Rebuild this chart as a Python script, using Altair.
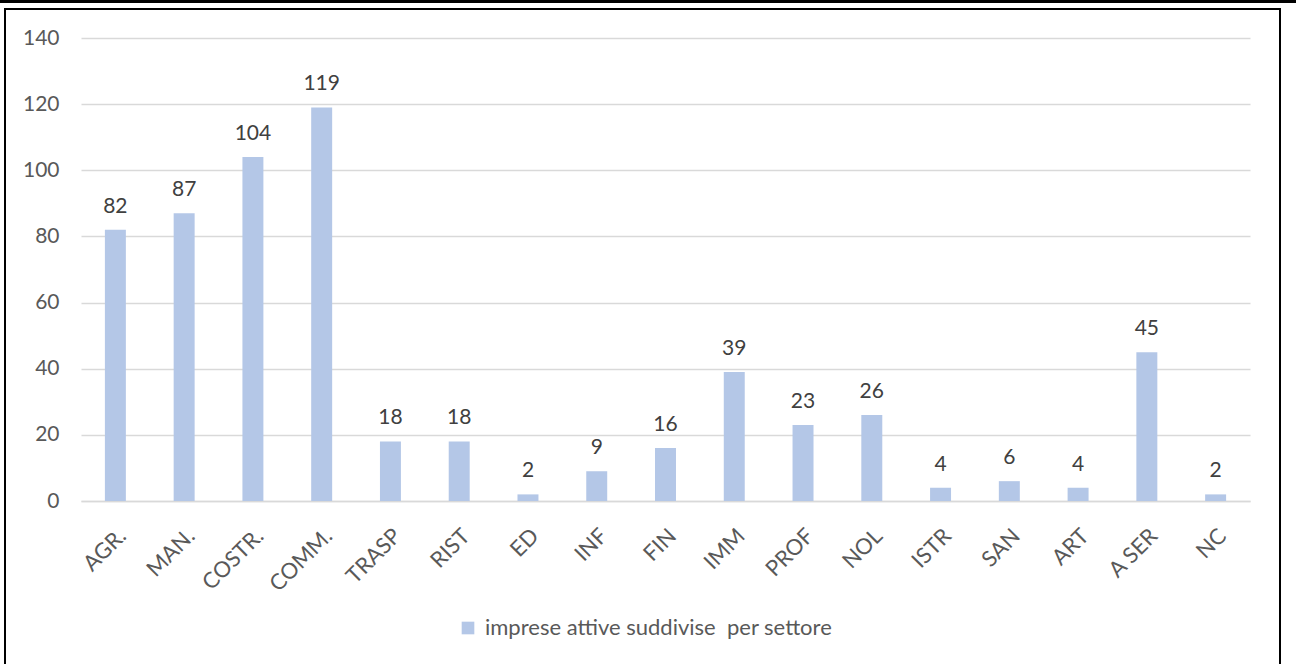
import altair as alt
import pandas as pd

# Imprese attive per settore
settori = ["AGR.", "MAN.", "COSTR.", "COMM.", "TRASP", "RIST", "ED", "INF", "FIN",
           "IMM", "PROF", "NOL", "ISTR", "SAN", "ART", "A SER", "NC"]
imprese = [82, 87, 104, 119, 18, 18, 2, 9, 16, 39, 23, 26, 4, 6, 4, 45, 2]
serie = "imprese attive suddivise \u00a0per settore"

df = pd.DataFrame({"settore": settori, "imprese": imprese, "serie": serie})

W, H = 1169, 463
PAD_L, PAD_T = 81, 38
FONT = "Lato"
BAR = "#B4C7E7"

x = alt.X("settore:N", sort=settori, title=None,
          scale=alt.Scale(paddingInner=0.695, paddingOuter=0.3475),
          axis=alt.Axis(labelAngle=-45, labelFontSize=22, labelColor="#595959",
                        labelFont=FONT, ticks=False, domainColor="#D9D9D9",
                        domainWidth=1.5, labelPadding=24))
y = alt.Y("imprese:Q", title=None,
          scale=alt.Scale(domain=[0, 140]),
          axis=alt.Axis(values=list(range(0, 141, 20)), labelFontSize=21,
                        labelColor="#595959", labelFont=FONT, ticks=False,
                        domain=False, gridColor="#D9D9D9", gridWidth=1.5,
                        labelPadding=22))

base = alt.Chart(df)

bars = base.mark_bar().encode(
    x=x, y=y,
    color=alt.Color("serie:N", title=None,
                    scale=alt.Scale(range=[BAR]),
                    legend=alt.Legend(orient="none", legendX=376, legendY=579,
                                      symbolType="square", symbolSize=160,
                                      symbolStrokeWidth=0, labelFontSize=22,
                                      labelFont=FONT, labelColor="#595959",
                                      labelLimit=700, labelOffset=6)),
)

labels = base.mark_text(fontSize=21, font=FONT, color="#404040",
                        baseline="alphabetic", dy=-17).encode(
    x=alt.X("settore:N", sort=settori),
    y="imprese:Q",
    text="imprese:Q",
)

frame_data = alt.Data(values=[{}])
frame = alt.Chart(frame_data).mark_rect(fill=None, stroke="black", strokeWidth=2).encode(
    x=alt.value(5 - PAD_L), x2=alt.value(1280 - PAD_L),
    y=alt.value(9 - PAD_T), y2=alt.value(700 - PAD_T),
)
top_band = alt.Chart(frame_data).mark_rect(fill="black").encode(
    x=alt.value(-PAD_L), x2=alt.value(1296 - PAD_L),
    y=alt.value(-PAD_T), y2=alt.value(3 - PAD_T),
)

chart = alt.layer(bars, labels, frame, top_band).properties(
    width=W, height=H,
    autosize=alt.AutoSizeParams(type="none"),
    padding={"left": PAD_L, "top": PAD_T, "right": 1296 - PAD_L - W,
             "bottom": 664 - PAD_T - H},
    background="white",
).configure_view(stroke=None)

chart.save("out.html", embed_options={"renderer": "svg", "actions": False})
